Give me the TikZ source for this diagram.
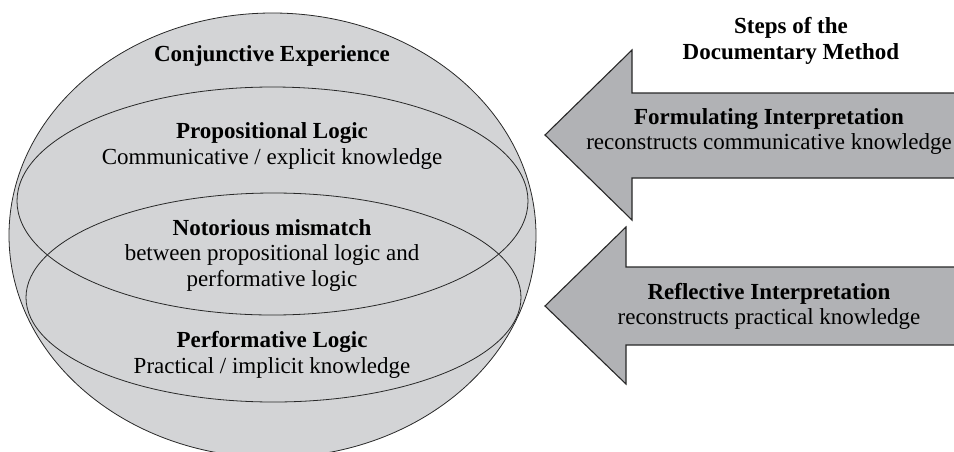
\documentclass[tikz,border=0pt]{standalone}
\usepackage{fontspec}
\setmainfont{Liberation Serif}
\definecolor{ellfill}{RGB}{211,212,214}
\definecolor{arrfill}{RGB}{177,178,181}
\definecolor{edgecol}{RGB}{40,40,40}
\newcommand{\st}{\rule[-6pt]{0pt}{23pt}}
\begin{document}
\begin{tikzpicture}[x=1pt,y=-1pt,
  txt/.style={align=center, inner sep=0pt, anchor=north, font=\fontsize{23}{25.5}\selectfont},
  ring/.style={draw=edgecol, line width=0.8pt},
  bigarrow/.style={draw=edgecol, line width=1.1pt, fill=arrfill, line join=miter}]
\useasboundingbox (0,0) rectangle (954,451);
\begin{scope}
\clip (0,0) rectangle (954,451);
% conjunctive experience sphere
\draw[ring, fill=ellfill] (272.5,235.3) ellipse [x radius=263.5, y radius=222.3];
\draw[ring] (272.5,201) ellipse [x radius=255.5, y radius=114];
\draw[ring] (273.5,297.5) ellipse [x radius=247.5, y radius=104.5];
% arrows
\draw[bigarrow] (960,93) -- (632,93) -- (632,50) -- (545,135) -- (632,220) -- (632,178) -- (960,178);
\draw[bigarrow] (960,267) -- (626,267) -- (626,227) -- (545,306) -- (626,384) -- (626,345) -- (960,345);
\end{scope}
% texts
\node[txt] (conj) at (272,44.7) {\st\textbf{Conjunctive Experience}};
\node[txt] (prop) at (272,121.3) {\st\textbf{Propositional Logic}\\Communicative / explicit knowledge};
\node[txt] (notor) at (272,218) {\st\textbf{Notorious mismatch}\\between propositional logic and\\performative logic};
\node[txt] (perf) at (272,330.7) {\st\textbf{Performative Logic}\\Practical / implicit knowledge};
\node[txt] (steps) at (791,16.3) {\st\textbf{Steps of the}\\\textbf{Documentary Method}};
\node[txt] (form) at (769,107) {\st\textbf{Formulating Interpretation}\\reconstructs communicative knowledge};
\node[txt] (refl) at (769,282) {\st\textbf{Reflective Interpretation}\\reconstructs practical knowledge};
\end{tikzpicture}
\end{document}
